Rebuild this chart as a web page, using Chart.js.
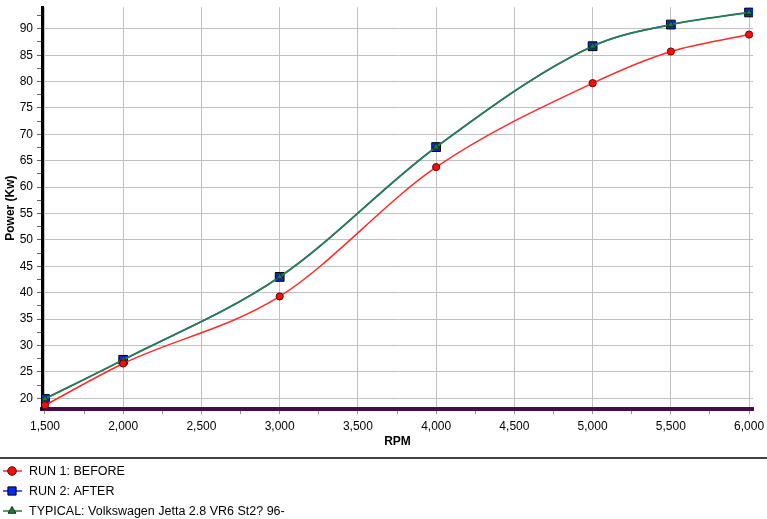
<!DOCTYPE html>
<html>
<head>
<meta charset="utf-8">
<script src="https://cdn.jsdelivr.net/npm/chart.js@4/dist/chart.umd.min.js"></script>
<style>
    html, body { margin: 0; padding: 0; background: #fff; }
    #wrap { width: 767px; height: 519px; }
</style>
</head>
<body>
<div id="wrap"><canvas id="dyno-chart" width="767" height="519"></canvas></div>
<script>
// Dyno readings (power in kW at each measured RPM).
const rpm = [1500, 2000, 3000, 4000, 5000, 5500, 6000];
const run1Before = [18.7, 26.6, 39.3, 63.8, 79.7, 85.7, 88.9];
const run2After = [19.9, 27.3, 43.0, 67.6, 86.7, 90.8, 93.1];
const typicalJetta = [19.9, 27.3, 43.0, 67.6, 86.7, 90.8, 93.1];
const seriesNames = ['RUN 1: BEFORE', 'RUN 2: AFTER', 'TYPICAL: Volkswagen Jetta 2.8 VR6 St2? 96-'];

// Axis ticks (minor ticks are unlabeled).
const xTicks = [1500, 1750, 2000, 2250, 2500, 2750, 3000, 3250, 3500, 3750, 4000, 4250, 4500, 4750, 5000, 5250, 5500, 5750, 6000];
const yTicks = [20, 22.5, 25, 27.5, 30, 32.5, 35, 37.5, 40, 42.5, 45, 47.5, 50, 52.5, 55, 57.5, 60, 62.5, 65, 67.5, 70, 72.5, 75, 77.5, 80, 82.5, 85, 87.5, 90, 92.5];

function toPoints(values) {
    return rpm.map((r, i) => ({ x: r, y: values[i] }));
}

// Draws the legend stacked under the chart, below a separator line.
const stackedLegend = {
    id: 'stackedLegend',
    afterDraw(chart) {
        const ctx = chart.ctx;
        ctx.save();
        ctx.strokeStyle = '#000';
        ctx.lineWidth = 1.5;
        ctx.beginPath();
        ctx.moveTo(0, 458);
        ctx.lineTo(chart.width, 458);
        ctx.stroke();

        chart.data.datasets.forEach((ds, i) => {
            const y = 471 + i * 20;
            ctx.strokeStyle = ds.legendLine;
            ctx.lineWidth = 1.5;
            ctx.beginPath();
            ctx.moveTo(3, y);
            ctx.lineTo(22, y);
            ctx.stroke();

            ctx.fillStyle = ds.pointBackgroundColor;
            ctx.strokeStyle = ds.pointBorderColor;
            ctx.lineWidth = 1;
            Chart.helpers.drawPoint(ctx, {
                pointStyle: ds.pointStyle,
                radius: ds.legendRadius,
                borderWidth: 1,
                rotation: 0
            }, 12, y);

            ctx.fillStyle = '#000';
            ctx.font = '12.5px "Liberation Sans", Arial, sans-serif';
            ctx.textAlign = 'left';
            ctx.textBaseline = 'middle';
            ctx.fillText(ds.label, 29, y + 1);
        });
        ctx.restore();
    }
};

// Drop the automatic label padding so the plot area sits where the layout says.
function noScalePadding(scale) {
    scale.paddingTop = 0;
    scale.paddingBottom = 0;
    scale.paddingLeft = 0;
    scale.paddingRight = 0;
}

document.addEventListener('DOMContentLoaded', function() {
    Chart.defaults.font.family = '"Liberation Sans", Arial, sans-serif';
    Chart.defaults.font.size = 12;
    Chart.defaults.color = '#000';

    const ctx = document.getElementById('dyno-chart');

    new Chart(ctx, {
        type: 'line',
        data: {
            datasets: [{
                label: seriesNames[0],
                data: toPoints(run1Before),
                borderColor: '#ff2a2a',
                borderWidth: 1.5,
                legendLine: '#ff2a2a',
                legendRadius: 4.3,
                pointStyle: 'circle',
                pointRadius: 3.6,
                pointBackgroundColor: '#f01010',
                pointBorderColor: '#700000',
                pointBorderWidth: 1,
                order: 0
            }, {
                label: seriesNames[1],
                data: toPoints(run2After),
                borderColor: '#2a6a7a',
                borderWidth: 1.5,
                legendLine: '#1030e0',
                legendRadius: 5.8,
                pointStyle: 'rect',
                pointRadius: 6.2,
                pointBackgroundColor: '#0a28f0',
                pointBorderColor: '#000',
                pointBorderWidth: 1,
                order: 2
            }, {
                label: seriesNames[2],
                data: toPoints(typicalJetta),
                borderColor: '#2a7a58',
                borderWidth: 1.8,
                legendLine: '#2a7a30',
                legendRadius: 4.5,
                pointStyle: 'triangle',
                pointRadius: 4,
                pointBackgroundColor: '#1f7a3a',
                pointBorderColor: '#0c3012',
                pointBorderWidth: 1,
                order: 1
            }]
        },
        options: {
            responsive: false,
            animation: false,
            layout: { padding: { top: 5, right: 14, bottom: 69, left: 0 } },
            elements: {
                line: { cubicInterpolationMode: 'monotone', fill: false }
            },
            plugins: {
                legend: { display: false },
                tooltip: { enabled: false }
            },
            scales: {
                x: {
                    type: 'linear',
                    min: 1481,
                    max: 6025,
                    afterBuildTicks: scale => { scale.ticks = xTicks.map(v => ({ value: v })); },
                    afterFit: scale => { scale.height = 41; noScalePadding(scale); },
                    border: { color: '#4a0a48', width: 4 },
                    grid: {
                        color: c => (c.tick && c.tick.value % 500 === 0) ? '#c0c0c0' : 'rgba(0,0,0,0)',
                        tickColor: '#909090',
                        tickLength: 5
                    },
                    ticks: {
                        autoSkip: false,
                        maxRotation: 0,
                        padding: 5,
                        callback: v => v % 500 === 0 ? v.toLocaleString('en-US') : ''
                    },
                    title: {
                        display: true,
                        text: 'RPM',
                        font: { weight: 'bold', size: 12 },
                        padding: 1
                    }
                },
                y: {
                    min: 17.98,
                    max: 94.09,
                    afterBuildTicks: scale => { scale.ticks = yTicks.map(v => ({ value: v })); },
                    afterFit: scale => { scale.width = 42; noScalePadding(scale); },
                    border: { color: '#000', width: 3 },
                    grid: {
                        color: c => (c.tick && c.tick.value % 5 === 0) ? '#c0c0c0' : 'rgba(0,0,0,0)',
                        tickColor: '#606060',
                        tickLength: 5
                    },
                    ticks: {
                        autoSkip: false,
                        padding: 4,
                        callback: v => v % 5 === 0 ? String(v) : ''
                    },
                    title: {
                        display: true,
                        text: 'Power (Kw)',
                        font: { weight: 'bold', size: 12 },
                        padding: 3
                    }
                }
            }
        },
        plugins: [stackedLegend]
    });
});
</script>
</body>
</html>
